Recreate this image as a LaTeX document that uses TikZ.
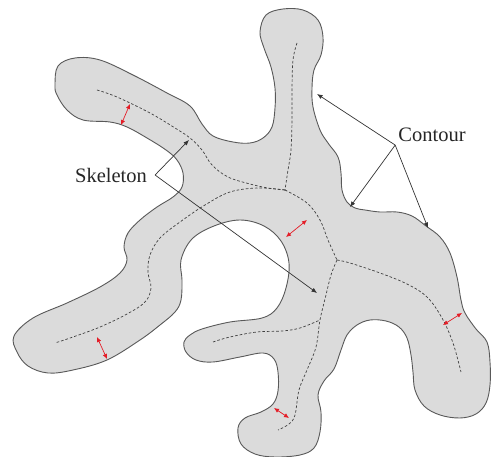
\documentclass[tikz,border=0pt]{standalone}
\usepackage{fontspec}
\setmainfont{Liberation Serif}
\usetikzlibrary{arrows.meta}
\definecolor{gapred}{RGB}{228,28,38}

\begin{document}
\begin{tikzpicture}[
  x=1pt,y=-1pt,
  font=\fontsize{20.5}{24}\selectfont,
  blob/.style={draw=black!65,line width=0.9pt,fill=black!14},
  skel/.style={draw=black!75,line width=0.7pt,dash pattern=on 2.6pt off 2pt},
  lbl/.style={inner ysep=1pt,text=black!85},
  arr/.style={-{Latex[length=5.5pt,width=4.5pt]},line width=0.7pt,black!80},
  gap/.style={{Latex[length=5pt,width=4.5pt]}-{Latex[length=5pt,width=4.5pt]},
              line width=0.7pt,gapred},
]
\useasboundingbox (0,0) rectangle (491,457);

% contour of the shape
\draw[blob] plot[smooth cycle,tension=0.6] coordinates {
  (55,85) (58,66) (75,58) (100,60) (133,75) (167,93) (190,106) (202,124)
  (213,136) (233,142) (250,143) (263,138) (272,127) (275,108) (275,88)
  (271,67) (264,48) (260,32) (266,15) (283,9) (303,10) (318,20) (323,37)
  (321,55) (314,70) (312,88) (313,107) (320,130) (328,143) (338,157)
  (341,173) (342,190) (347,202) (355,208) (365,210) (380,212) (397,212)
  (412,216) (426,226) (440,237) (450,253) (457,277) (461,300) (465,313)
  (476,329) (487,342) (490,362) (490,385) (486,403) (476,414) (460,418)
  (440,415) (424,406) (415,390) (413,372) (411,355) (407,338) (399,327)
  (386,321) (370,320) (357,325) (347,335) (341,350) (334,369) (324,381)
  (318,395) (321,412) (320,432) (314,448) (300,455) (275,457) (255,454)
  (241,444) (238,428) (245,418) (261,412) (273,404) (278,391) (278,372)
  (274,359) (263,353) (240,357) (213,362) (196,360) (186,352) (184,342)
  (190,335) (202,329) (230,322) (262,318) (277,308) (286,288) (289,263)
  (281,241) (264,226) (240,220) (214,226) (192,239) (181,260) (182,280)
  (181,300) (175,312) (160,325) (140,340) (107,360) (73,370) (48,373)
  (28,366) (17,352) (14,336) (33,318) (67,303) (100,287) (120,273)
  (127,260) (124,247) (128,233) (140,220) (157,207) (173,197) (182,187)
  (183,173) (177,160) (166,150) (147,138) (127,127) (110,122) (83,120)
  (67,110) (57,95)};

% skeleton branches
\draw[skel] plot[smooth,tension=0.6] coordinates {
  (97,90) (117,97) (150,113) (175,128) (190,138) (202,150) (212,165)
  (228,177) (250,184) (268,188) (285,190)};
\draw[skel] plot[smooth,tension=0.6] coordinates {
  (297,43) (293,60) (292,90) (292,120) (291,150) (288,170) (285,190)};
\draw[skel] plot[smooth,tension=0.6] coordinates {
  (285,190) (258,188) (230,192) (205,205) (180,222) (160,238) (150,255)
  (148,272) (151,288) (145,302) (127,314) (100,327) (73,337) (55,343)};
\draw[skel] plot[smooth,tension=0.6] coordinates {
  (285,190) (307,203) (320,220) (328,240) (337,260)};
\draw[skel] plot[smooth,tension=0.6] coordinates {
  (337,260) (350,263) (380,273) (407,284) (427,297) (442,318) (453,343)
  (461,372)};
\draw[skel] plot[smooth,tension=0.6] coordinates {
  (337,260) (331,275) (326,295) (320,320) (316,347) (307,370) (299,390)
  (295,415) (289,424) (278,430)};
\draw[skel] plot[smooth,tension=0.6] coordinates {
  (213,342) (230,337) (257,332) (282,331) (300,328) (320,320)};

% local widths
\draw[gap] (130,104) -- (121,125);
\draw[gap] (307,220) -- (286,237);
\draw[gap] (97,337) -- (107,359);
\draw[gap] (443,325) -- (462,313);
\draw[gap] (274,408) -- (289,418);

% labels
\node[lbl,inner xsep=8pt] (skeleton) at (111,175) {Skeleton};
\node[lbl,inner xsep=3pt,inner ysep=3pt] (contour) at (432,135) {Contour};

\coordinate (skA) at (189,140);
\coordinate (skB) at (317,293);
\coordinate (ctA) at (317,94);
\coordinate (ctB) at (350,207);
\coordinate (ctC) at (428,228);

\draw[arr] (skeleton.east) -- (skA);
\draw[arr] (skeleton.east) -- (skB);
\draw[arr] (contour.south west) -- (ctA);
\draw[arr] (contour.south west) -- (ctB);
\draw[arr] (contour.south west) -- (ctC);
\end{tikzpicture}
\end{document}
